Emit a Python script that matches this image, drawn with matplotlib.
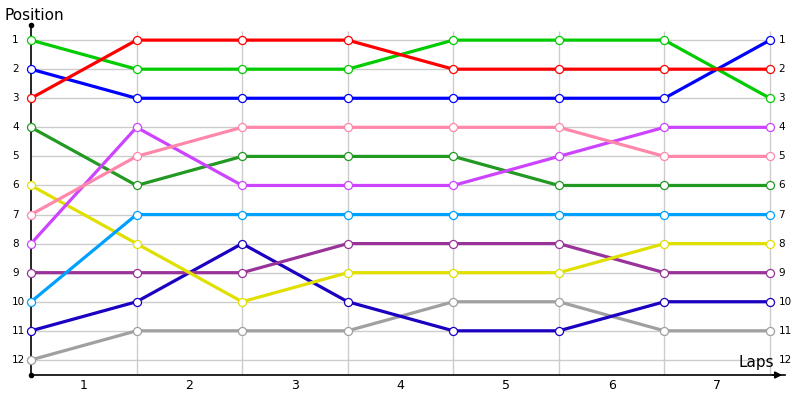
import matplotlib
matplotlib.use("Agg")
from matplotlib import pyplot as plt
from matplotlib import transforms
import numpy as np

laps = [0, 1, 2, 3, 4, 5, 6, 7]
lap_labels = ["1", "2", "3", "4", "5", "6", "7"]
positions = list(range(1, 13))

# position of each driver after each lap
red = [3, 1, 1, 1, 2, 2, 2, 2]
green = [1, 2, 2, 2, 1, 1, 1, 3]
blue = [2, 3, 3, 3, 3, 3, 3, 1]
pink = [7, 5, 4, 4, 4, 4, 5, 5]
magenta = [8, 4, 6, 6, 6, 5, 4, 4]
dark_green = [4, 6, 5, 5, 5, 6, 6, 6]
light_blue = [10, 7, 7, 7, 7, 7, 7, 7]
yellow = [6, 8, 10, 9, 9, 9, 8, 8]
purple = [9, 9, 9, 8, 8, 8, 9, 9]
navy = [11, 10, 8, 10, 11, 11, 10, 10]
grey = [12, 11, 11, 11, 10, 10, 11, 11]

series = [
    (grey, "#a0a0a0"),
    (navy, "#1a00c0"),
    (purple, "#993399"),
    (yellow, "#e0e000"),
    (light_blue, "#00a0ff"),
    (dark_green, "#229922"),
    (magenta, "#cc44ff"),
    (pink, "#ff88aa"),
    (blue, "#0000ff"),
    (green, "#00cc00"),
    (red, "#ff0000"),
]

fig = plt.figure(figsize=(8, 4), dpi=100)
ax = fig.add_axes([31 / 800, 25 / 400, 754 / 800, 350 / 400])
xmax = 754 / 105.57
ax.set_xlim(0, xmax)
ax.set_ylim(12.52, 0.48)

# grid
ax.hlines(positions, 0, 7, color="#cccccc", lw=1, zorder=0)
ax.vlines(laps[1:], 0.7, 12.52, color="#cccccc", lw=1, zorder=0)

for vals, col in series:
    ax.plot(laps, vals, color=col, lw=2.3, marker="o", ms=5.8,
            mfc="white", mec=col, mew=0.9, zorder=3, clip_on=False)

for s in ["top", "right"]:
    ax.spines[s].set_visible(False)
ax.spines["left"].set_linewidth(1.2)
ax.spines["bottom"].set_linewidth(1.2)
ax.plot([0], [0.48], marker="o", ms=3, color="black", clip_on=False, zorder=5)
ax.plot([0], [12.52], marker="o", ms=3, color="black", clip_on=False, zorder=5)
ax.annotate("", xy=(xmax, 12.52), xytext=(7.0, 12.52),
            arrowprops=dict(arrowstyle="-|>", color="black", lw=1.2,
                            mutation_scale=10), annotation_clip=False)

ax.set_yticks([])
left_tr = transforms.blended_transform_factory(fig.transFigure, ax.transData)
for p in positions:
    ax.text(12 / 800, p, str(p), fontsize=7.5, va="center", ha="left",
            transform=left_tr)
    ax.text(7.08, p, str(p), fontsize=7.5, va="center", ha="left")

ax.set_xticks([l + 0.5 for l in laps[:-1]])
ax.set_xticklabels(lap_labels, fontsize=9)
ax.tick_params(axis="x", length=0, pad=3)

fig.text(5 / 800, 1 - 15 / 400, "Position", fontsize=11, va="center", ha="left")
ax.text(7.04, 12.1, "Laps", fontsize=11, va="center", ha="right")

fig.savefig("out.png", dpi=100)
